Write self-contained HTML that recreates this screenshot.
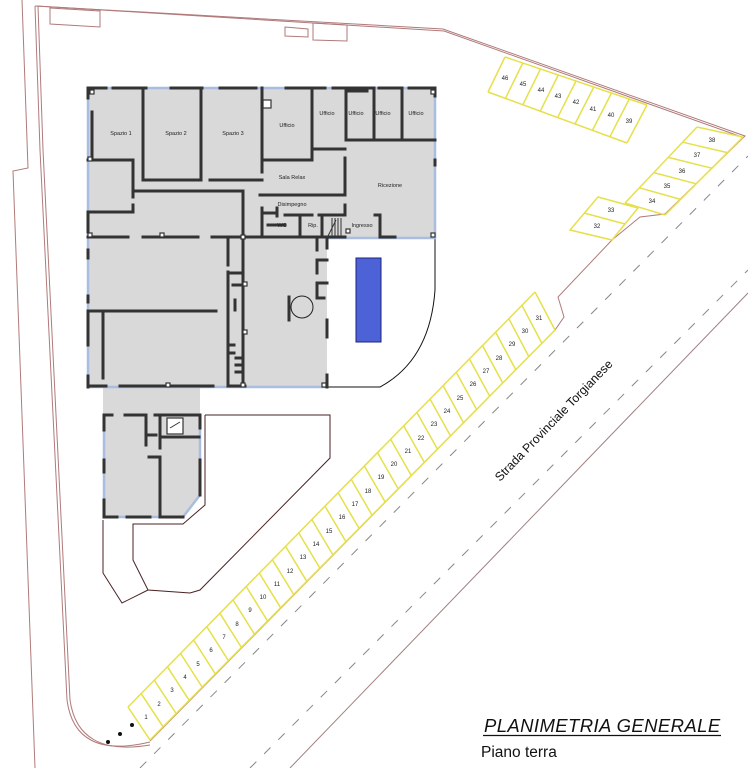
<!DOCTYPE html>
<html><head><meta charset="utf-8"><style>
html,body{margin:0;padding:0;background:#fff;}
svg{display:block;font-family:"Liberation Sans",sans-serif;}
</style></head><body>
<svg width="748" height="768" viewBox="0 0 748 768" xmlns="http://www.w3.org/2000/svg">
<g fill="none" stroke="#b07a7a" stroke-width="1">
<polyline points="22,0 28,168 13,171 35,768"/>
<polyline points="35,6 443,29 745,136 665,214 640,217 612,240 558,297 564,317 555,330 150,741"/>
<polyline points="37,6 444,31 742,137"/>
<path d="M35,6 L40,150 L67,700 Q75,760 150,742"/>
<path d="M38,6 L43,150 L70,700 Q78,757 150,745"/>
<polygon points="50,8 100,11 100,27 50,24"/>
<polygon points="285,27 308,29 308,37 285,36"/>
<polygon points="313,23 347,25 347,41 313,40"/>
</g>
<g fill="none" stroke="#888" stroke-width="1">
<line x1="140" y1="768" x2="748" y2="156" stroke-dasharray="9,11"/>
<line x1="250" y1="768" x2="748" y2="270" stroke-dasharray="9,11"/>
<line x1="290" y1="768" x2="748" y2="293" stroke="#a08080"/>
</g>
<text x="0" y="0" font-size="12.3" fill="#111" transform="translate(500,482) rotate(-46)">Strada Provinciale Torgianese</text>

<g fill="#d9d9d9" stroke="none">
<polygon points="88,88 435,88 435,238 327,238 327,387 88,387"/>
<polygon points="103,387 200,387 200,495 183,517 103,517"/>
</g>
<path d="M327,238 L435,238 L435,290 Q430,360 380,387 L327,387" fill="#fff" stroke="#111" stroke-width="1"/>
<rect x="356" y="258" width="25" height="84" fill="#4d62d6" stroke="#1a237e" stroke-width="1"/>
<g stroke="#a9bde0" stroke-width="2.5" fill="none">
<polyline points="88,88 435,88 435,238 327,238"/>
<line x1="88" y1="88" x2="88" y2="387"/>
<line x1="88" y1="387" x2="327" y2="387"/>
<polyline points="104,415 104,517 183,517 200,495 200,415"/>
</g>
<g stroke="#333" stroke-width="3" fill="none" stroke-linecap="square">
<line x1="88" y1="88" x2="106" y2="88"/><line x1="113" y1="88" x2="146" y2="88"/><line x1="171" y1="88" x2="202" y2="88"/><line x1="220" y1="88" x2="256" y2="88"/><line x1="286" y1="88" x2="325" y2="88"/><line x1="333" y1="88" x2="371" y2="88"/><line x1="379" y1="88" x2="402" y2="88"/><line x1="409" y1="88" x2="435" y2="88"/>
<line x1="88" y1="88" x2="88" y2="98"/><line x1="92" y1="112" x2="92" y2="160"/><line x1="88" y1="213" x2="88" y2="232"/><line x1="88" y1="250" x2="88" y2="258"/><line x1="88" y1="296" x2="88" y2="302"/><line x1="88" y1="312" x2="88" y2="345"/><line x1="88" y1="376" x2="88" y2="387"/>
<line x1="435" y1="88" x2="435" y2="96"/><line x1="435" y1="160" x2="435" y2="165"/>
<line x1="88" y1="386" x2="106" y2="386"/><line x1="120" y1="386" x2="213" y2="386"/><line x1="228" y1="386" x2="245" y2="386"/>
<line x1="143" y1="88" x2="143" y2="180"/><line x1="201" y1="88" x2="201" y2="180"/><line x1="262" y1="88" x2="262" y2="160"/>
<line x1="143" y1="180" x2="198" y2="180"/><line x1="210" y1="180" x2="262" y2="180"/>
<line x1="88" y1="160" x2="133" y2="160"/><line x1="133" y1="160" x2="133" y2="197"/><line x1="133" y1="191" x2="243" y2="191"/><line x1="243" y1="191" x2="243" y2="237"/>
<line x1="88" y1="212" x2="133" y2="212"/><line x1="133" y1="205" x2="133" y2="212"/>
<line x1="262" y1="160" x2="312" y2="160"/><line x1="312" y1="88" x2="312" y2="160"/><line x1="312" y1="149" x2="345" y2="149"/>
<line x1="346" y1="88" x2="346" y2="140"/><line x1="374" y1="88" x2="374" y2="140"/><line x1="402" y1="88" x2="402" y2="140"/><line x1="346" y1="140" x2="435" y2="140"/>
<line x1="346" y1="91" x2="367" y2="91"/>
<line x1="345" y1="158" x2="345" y2="195"/><line x1="260" y1="195" x2="345" y2="195"/>
<line x1="262" y1="160" x2="262" y2="172"/>
<line x1="262" y1="208" x2="262" y2="237"/><line x1="262" y1="213" x2="277" y2="213"/><line x1="277" y1="208" x2="277" y2="216"/>
<line x1="285" y1="215" x2="312" y2="215"/><line x1="319" y1="215" x2="345" y2="215"/><line x1="345" y1="205" x2="345" y2="215"/>
<line x1="300" y1="215" x2="300" y2="237"/><line x1="268" y1="225" x2="285" y2="225"/>
<line x1="322" y1="215" x2="322" y2="237"/>
<line x1="375" y1="215" x2="380" y2="215"/><line x1="380" y1="215" x2="380" y2="237"/><line x1="380" y1="237" x2="395" y2="237"/>
<line x1="243" y1="237" x2="345" y2="237"/>
<line x1="88" y1="237" x2="128" y2="237"/><line x1="143" y1="237" x2="198" y2="237"/><line x1="212" y1="237" x2="245" y2="237"/>
<line x1="228" y1="240" x2="228" y2="265"/><line x1="228" y1="272" x2="228" y2="386"/><line x1="243" y1="237" x2="243" y2="386"/>
<line x1="228" y1="273" x2="243" y2="273"/><line x1="233" y1="285" x2="243" y2="285"/><line x1="235" y1="300" x2="235" y2="310"/><line x1="228" y1="345" x2="234" y2="345"/><line x1="228" y1="353" x2="234" y2="353"/><line x1="236" y1="358" x2="243" y2="358"/><line x1="236" y1="365" x2="243" y2="365"/><line x1="236" y1="372" x2="243" y2="372"/>
<line x1="88" y1="311" x2="216" y2="311"/><line x1="103" y1="311" x2="103" y2="378"/>
<line x1="317" y1="240" x2="317" y2="250"/><line x1="317" y1="260" x2="327" y2="260"/><line x1="317" y1="260" x2="317" y2="273"/><line x1="317" y1="283" x2="327" y2="283"/><line x1="317" y1="283" x2="317" y2="298"/><line x1="317" y1="298" x2="324" y2="298"/>
<line x1="327" y1="238" x2="327" y2="248"/><line x1="327" y1="320" x2="327" y2="337"/><line x1="327" y1="375" x2="327" y2="387"/>
<line x1="289" y1="297" x2="289" y2="320"/>
<line x1="104" y1="415" x2="104" y2="430"/><line x1="104" y1="460" x2="104" y2="472"/><line x1="104" y1="500" x2="104" y2="517"/>
<line x1="104" y1="415" x2="112" y2="415"/><line x1="125" y1="415" x2="146" y2="415"/><line x1="155" y1="415" x2="200" y2="415"/>
<line x1="200" y1="415" x2="200" y2="428"/><line x1="200" y1="460" x2="200" y2="495"/>
<line x1="104" y1="517" x2="117" y2="517"/><line x1="127" y1="517" x2="150" y2="517"/><line x1="160" y1="517" x2="183" y2="517"/>
<line x1="146" y1="417" x2="146" y2="445"/><line x1="160" y1="417" x2="160" y2="448"/><line x1="149" y1="435" x2="156" y2="435"/>
<line x1="162" y1="437" x2="199" y2="437"/><line x1="149" y1="457" x2="160" y2="457"/><line x1="160" y1="457" x2="160" y2="517"/>
</g>
<g fill="#fff" stroke="#333" stroke-width="1.2">
<rect x="90" y="90" width="4" height="4"/><rect x="431" y="90" width="4" height="4"/><rect x="431" y="233" width="4" height="4"/><rect x="88" y="157" width="4" height="4"/><rect x="88" y="233" width="4" height="4"/>
<rect x="160" y="233" width="4" height="4"/><rect x="241" y="235" width="4" height="4"/><rect x="322" y="383" width="4" height="4"/><rect x="241" y="383" width="4" height="4"/><rect x="166" y="383" width="4" height="4"/>
<rect x="346" y="229" width="4" height="4"/><rect x="263" y="100" width="8" height="8"/><rect x="167" y="418" width="16" height="16"/>
<rect x="243" y="282" width="4" height="4"/><rect x="243" y="330" width="4" height="4"/>
</g>
<circle cx="302" cy="307" r="11" fill="none" stroke="#222" stroke-width="1"/>
<g stroke="#333" stroke-width="1"><line x1="332" y1="218" x2="332" y2="236"/><line x1="335" y1="218" x2="335" y2="236"/><line x1="338" y1="218" x2="338" y2="236"/><line x1="341" y1="218" x2="341" y2="236"/><line x1="328" y1="236" x2="336" y2="220"/>
<line x1="170" y1="428" x2="180" y2="422"/></g>
<g fill="none" stroke="#4a2222" stroke-width="1">
<polyline points="205,415 330,415 330,458 200,590 190,593 148,590 133,560 133,524 183,524 205,505 205,415"/>
<polyline points="103,520 103,573 122,603 148,590"/>
</g>
<g font-size="5.5" fill="#222" text-anchor="middle">
<text x="121" y="135">Spazio 1</text><text x="176" y="135">Spazio 2</text><text x="233" y="135">Spazio 3</text>
<text x="287" y="127">Ufficio</text><text x="327" y="115">Ufficio</text><text x="356" y="115">Ufficio</text><text x="383" y="115">Ufficio</text><text x="416" y="115">Ufficio</text>
<text x="292" y="179">Sala Relax</text><text x="390" y="187">Ricezione</text><text x="292" y="206">Disimpegno</text>
<text x="282" y="227">WC</text><text x="313" y="227">Rip.</text><text x="362" y="227">Ingresso</text>
</g>
<g fill="none" stroke="#e6e04a" stroke-width="1.5">
<line x1="128" y1="707" x2="535" y2="292"/><line x1="150" y1="740" x2="555" y2="330"/>
<path d="M128,707L150,740M141.1,693.6L163.1,726.8M154.3,680.2L176.1,713.5M167.4,666.8L189.2,700.3M180.5,653.4L202.2,687.1M193.7,640.1L215.3,673.9M206.8,626.7L228.4,660.6M219.9,613.3L241.4,647.4M233,599.9L254.5,634.2M246.2,586.5L267.5,620.9M259.3,573.1L280.6,607.7M272.4,559.7L293.7,594.5M285.6,546.3L306.7,581.2M298.7,532.9L319.8,568M311.8,519.5L332.8,554.8M325,506.2L345.9,541.6M338.1,492.8L359,528.3M351.2,479.4L372,515.1M364.3,466L385.1,501.9M377.5,452.6L398.1,488.6M390.6,439.2L411.2,475.4M403.7,425.8L424.3,462.2M416.9,412.4L437.3,448.9M430,399L450.4,435.7M443.1,385.6L463.4,422.5M456.3,372.3L476.5,409.3M469.4,358.9L489.6,396M482.5,345.5L502.6,382.8M495.6,332.1L515.7,369.6M508.8,318.7L528.7,356.3M521.9,305.3L541.8,343.1M535,292L555,330"/>
<line x1="505" y1="57" x2="647" y2="105"/><line x1="488" y1="92" x2="627" y2="143"/>
<path d="M505,57L488,92M522.8,63L505.4,98.4M540.5,69L522.8,104.8M558.3,75L540.2,111.2M576,81L557.6,117.6M593.8,87L575,124M611.5,93L592.4,130.4M629.3,99L609.8,136.8M647,105L627,143"/>
<line x1="697" y1="127" x2="625" y2="203"/><line x1="743" y1="137" x2="665" y2="215"/>
<path d="M697,127L743,137M682.6,142.2L727.4,152.6M668.2,157.4L711.8,168.2M653.8,172.6L696.2,183.8M639.4,187.8L680.6,199.4M625,203L665,215"/>
<polygon points="598,197 638,208 612,240 570,230"/><line x1="584" y1="213" x2="625" y2="224"/>
</g>
<g font-size="6" fill="#222" text-anchor="middle">
<text x="146" y="719">1</text><text x="159" y="706">2</text><text x="172" y="692">3</text><text x="185" y="679">4</text><text x="198" y="666">5</text><text x="211" y="652">6</text><text x="224" y="639">7</text><text x="237" y="626">8</text><text x="250" y="612">9</text><text x="263" y="599">10</text><text x="277" y="586">11</text><text x="290" y="573">12</text><text x="303" y="559">13</text><text x="316" y="546">14</text><text x="329" y="533">15</text><text x="342" y="519">16</text><text x="355" y="506">17</text><text x="368" y="493">18</text><text x="381" y="479">19</text><text x="394" y="466">20</text><text x="408" y="453">21</text><text x="421" y="440">22</text><text x="434" y="426">23</text><text x="447" y="413">24</text><text x="460" y="400">25</text><text x="473" y="386">26</text><text x="486" y="373">27</text><text x="499" y="360">28</text><text x="512" y="346">29</text><text x="525" y="333">30</text><text x="539" y="320">31</text>
<text x="597" y="228">32</text><text x="611" y="212">33</text><text x="652" y="203">34</text><text x="667" y="188">35</text><text x="682" y="173">36</text><text x="697" y="157">37</text><text x="712" y="142">38</text>
<text x="629" y="123">39</text><text x="611" y="117">40</text><text x="593" y="111">41</text><text x="576" y="104">42</text><text x="558" y="98">43</text><text x="541" y="92">44</text><text x="523" y="86">45</text><text x="505" y="80">46</text>
</g>
<g fill="#111"><circle cx="132" cy="725" r="2"/><circle cx="120" cy="734" r="2"/><circle cx="108" cy="742" r="2"/></g>
<text x="484" y="732" font-size="18.5" font-style="italic" fill="#111" letter-spacing="0.4">PLANIMETRIA GENERALE</text>
<line x1="483" y1="735.5" x2="721" y2="735.5" stroke="#111" stroke-width="1.2"/>
<text x="481" y="757" font-size="15.5" fill="#111">Piano terra</text>
</svg>
</body></html>
